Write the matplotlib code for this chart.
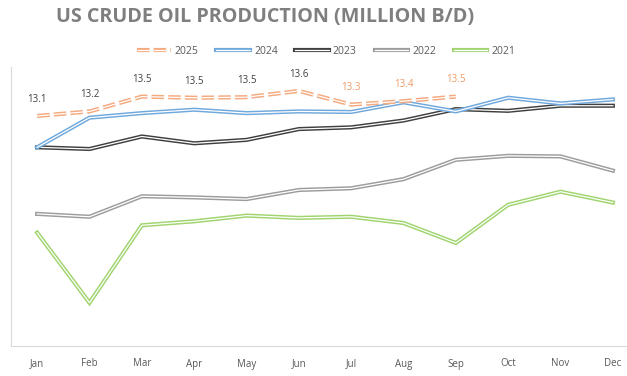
import numpy as np
import matplotlib
matplotlib.use('Agg')
from matplotlib import pyplot as plt

months = ['Jan', 'Feb', 'Mar', 'Apr', 'May', 'Jun', 'Jul', 'Aug', 'Sep', 'Oct', 'Nov', 'Dec']

# million barrels per day
y2025 = [13.14, 13.22, 13.48, 13.46, 13.47, 13.58, 13.34, 13.40, 13.48]
y2024 = [12.59, 13.11, 13.19, 13.25, 13.19, 13.22, 13.21, 13.38, 13.22, 13.46, 13.36, 13.43]
y2023 = [12.59, 12.56, 12.78, 12.66, 12.72, 12.91, 12.94, 13.06, 13.26, 13.23, 13.32, 13.32]
y2022 = [11.42, 11.37, 11.73, 11.71, 11.68, 11.84, 11.87, 12.03, 12.37, 12.44, 12.43, 12.18]
y2021 = [11.09, 9.86, 11.22, 11.29, 11.39, 11.35, 11.37, 11.26, 10.91, 11.58, 11.81, 11.62]

plt.rcParams['font.family'] = ['Open Sans', 'DejaVu Sans']
plt.rcParams['lines.scale_dashes'] = False

fig = plt.figure(figsize=(6.27, 3.76), dpi=100)
ax = fig.add_axes([11/627, 1 - 346/376, 628/627, 279/376])

series = [
    ('2025', y2025, '#F4A97E', (0, (9, 3))),
    ('2024', y2024, '#6FA8DC', '-'),
    ('2023', y2023, '#3F3F3F', '-'),
    ('2022', y2022, '#9C9C9C', '-'),
    ('2021', y2021, '#9FD46E', '-'),
]

handles = []
labels = []
# draw back to front so 2025 sits on top
for name, vals, col, ls in series[::-1]:
    x = np.arange(len(vals))
    outer, = ax.plot(x, vals, color=col, lw=3.0, ls=ls, solid_joinstyle='miter', zorder=2)
    inner, = ax.plot(x, vals, color='white', lw=0.9, ls=ls, zorder=2)
    handles.insert(0, (outer, inner))
    labels.insert(0, name)

# data labels on 2025
for i, v in enumerate(y2025):
    col = '#404040' if i < 6 else '#EE9A66'
    ax.annotate(f'{v:.1f}', (i, v), xytext=(0, 8), textcoords='offset points',
                ha='center', va='bottom', fontsize=7, color=col)

ax.set_xlim(-0.5, 11.5)
ax.set_ylim(9.1, 14.0)
ax.set_xticks(range(12))
ax.set_xticklabels(months, fontsize=7, color='#595959')
ax.set_yticks([])
ax.tick_params(axis='x', length=0, pad=9)
for s in ['top', 'right']:
    ax.spines[s].set_visible(False)
for s in ['left', 'bottom']:
    ax.spines[s].set_color('#D9D9D9')
    ax.spines[s].set_linewidth(0.8)

fig.text(265/627, 1 - 17/376, 'US CRUDE OIL PRODUCTION (MILLION B/D)', ha='center', va='center',
         fontsize=14.2, fontweight='bold', color='#7F7F7F')

fig.legend(handles, labels, loc='center left', bbox_to_anchor=(128/627, 1 - 51/376),
           ncol=5, frameon=False, fontsize=7.5, labelcolor='#595959',
           handlelength=3.2, handletextpad=0.4, columnspacing=1.7)

plt.savefig('out.png', dpi=100)
